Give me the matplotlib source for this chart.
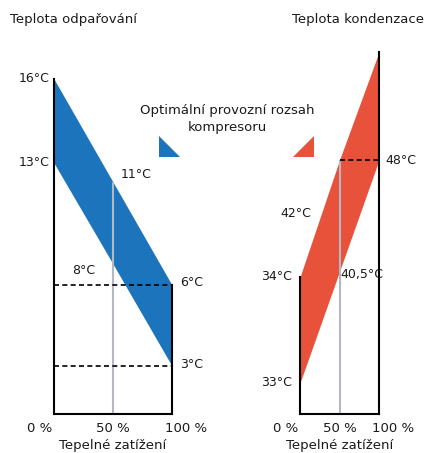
import numpy as np
import matplotlib
matplotlib.use("Agg")
import matplotlib.pyplot as plt
from matplotlib.patches import Polygon
from matplotlib.transforms import offset_copy

plt.rcParams['font.family'] = ['DejaVu Sans']

# data
load = [0, 50, 100]
load_labels = ['0 %', '50 %', '100 %']
evap_upper = [16, 11, 6]
evap_lower = [13, 8, 3]
cond_upper = [34, 48, 62]
cond_lower = [33, 40.5, 48]

# schematic (non-linear) temperature axes of the original drawing
evap_knots = [0, 3, 6, 8, 11, 13, 16]
evap_pos = [0, 48, 129, 150, 232, 251, 335]
cond_knots = [30, 33, 34, 40.5, 48, 62]
cond_pos = [0, 31, 137, 142.5, 254, 362]

blue = '#1c75bc'
red = '#e9523a'
grey = '#b4b8c4'
ink = '#1a1a1a'

W, H = 425, 453
fig = plt.figure(figsize=(W / 100, H / 100), dpi=100)


def rect(x0, y_top, w, y_bot):
    return [x0 / W, (H - y_bot) / H, w / W, (y_bot - y_top) / H]


def sch_scale(ax, knots, pos):
    fwd = lambda t: np.interp(t, knots, pos)
    inv = lambda h: np.interp(h, pos, knots)
    ax.set_yscale('function', functions=(fwd, inv))
    ax.set_ylim(knots[0], knots[-1])


def off(ax, dx, dy):
    return offset_copy(ax.transData, fig=fig, x=dx, y=dy, units='dots')


ax1 = fig.add_axes(rect(54, 79, 118, 414))
ax2 = fig.add_axes(rect(300, 52, 79, 414))

for ax, knots, pos in [(ax1, evap_knots, evap_pos), (ax2, cond_knots, cond_pos)]:
    sch_scale(ax, knots, pos)
    ax.set_xlim(0, 100)
    ax.patch.set_visible(False)
    ax.set_yticks([])
    ax.tick_params(axis='x', length=0, pad=6, labelsize=9.5, labelcolor=ink)
    ax.set_xticks(load, load_labels)
    for lab, dx in zip(ax.get_xticklabels(), [-14, 0, 14]):
        lab.set_transform(lab.get_transform() + matplotlib.transforms.Affine2D().translate(dx, 0))
    ax.set_xlabel('Tepelné zatížení', fontsize=9.5, labelpad=3, color=ink)
    ax.spines['top'].set_visible(False)
    for s in ['left', 'right', 'bottom']:
        ax.spines[s].set_linewidth(1.5)

# evaporation panel
ax1.fill_between(load, evap_lower, evap_upper, color=blue, lw=0, zorder=1)
ax1.spines['right'].set_bounds(evap_knots[0], evap_upper[-1])
ax1.vlines(load[1], evap_knots[0], evap_upper[1], color=grey, lw=1.5, zorder=2)
ax1.hlines([evap_upper[-1], evap_lower[-1]], 0, 100, color='black', lw=1.2,
           linestyles=(0, (3, 2)), zorder=3)
kw = dict(fontsize=9, color=ink, va='center')
ax1.text(0, evap_upper[0], '16°C', transform=off(ax1, -4, 0), ha='right', **kw)
ax1.text(0, evap_lower[0], '13°C', transform=off(ax1, -4, 0), ha='right', **kw)
ax1.text(50, evap_upper[1], '11°C', transform=off(ax1, 8, 7), ha='left', **kw)
ax1.text(50, evap_lower[1], '8°C', transform=off(ax1, -29, -6), ha='center', **kw)
ax1.text(100, evap_upper[-1], '6°C', transform=off(ax1, 8, 2), ha='left', **kw)
ax1.text(100, evap_lower[-1], '3°C', transform=off(ax1, 8, 2), ha='left', **kw)

# condensation panel
ax2.fill_between(load, cond_lower, cond_upper, color=red, lw=0, zorder=1)
ax2.spines['left'].set_bounds(cond_knots[0], cond_upper[0])
ax2.vlines(load[1], cond_knots[0], cond_upper[1], color=grey, lw=1.5, zorder=2)
ax2.hlines(cond_lower[-1], 50, 100, color='black', lw=1.2, linestyles=(0, (3, 2)), zorder=3)
ax2.text(0, cond_upper[0], '34°C', transform=off(ax2, -8, 0), ha='right', **kw)
ax2.text(0, cond_lower[0], '33°C', transform=off(ax2, -8, 0), ha='right', **kw)
ax2.text(100, cond_lower[-1], '48°C', transform=off(ax2, 6, 0), ha='left', **kw)
ax2.text(50, cond_lower[1], '40,5°C', transform=off(ax2, 1, -3), ha='left', **kw)
ax2.text(-0.05, 0.555, '42°C', transform=ax2.transAxes, ha='center', **kw)

# titles
fig.text(10 / W, 1 - 20 / H, 'Teplota odpařování', ha='left', va='center', fontsize=9.5, color=ink)
fig.text(424 / W, 1 - 20 / H, 'Teplota kondenzace', ha='right', va='center', fontsize=9.5, color=ink)

# legend
fig.text(227 / W, 1 - 119 / H, 'Optimální provozní rozsah\nkompresoru', ha='center',
         va='center', fontsize=9.5, linespacing=1.35, color=ink)
tri_b = [(159, 136), (159, 157), (180, 157)]
tri_r = [(314, 136), (314, 157), (293, 157)]
for tri, c in [(tri_b, blue), (tri_r, red)]:
    fig.patches.append(Polygon([(x / W, 1 - y / H) for x, y in tri], closed=True,
                               transform=fig.transFigure, color=c, lw=0))

fig.savefig('out.png', dpi=100)
